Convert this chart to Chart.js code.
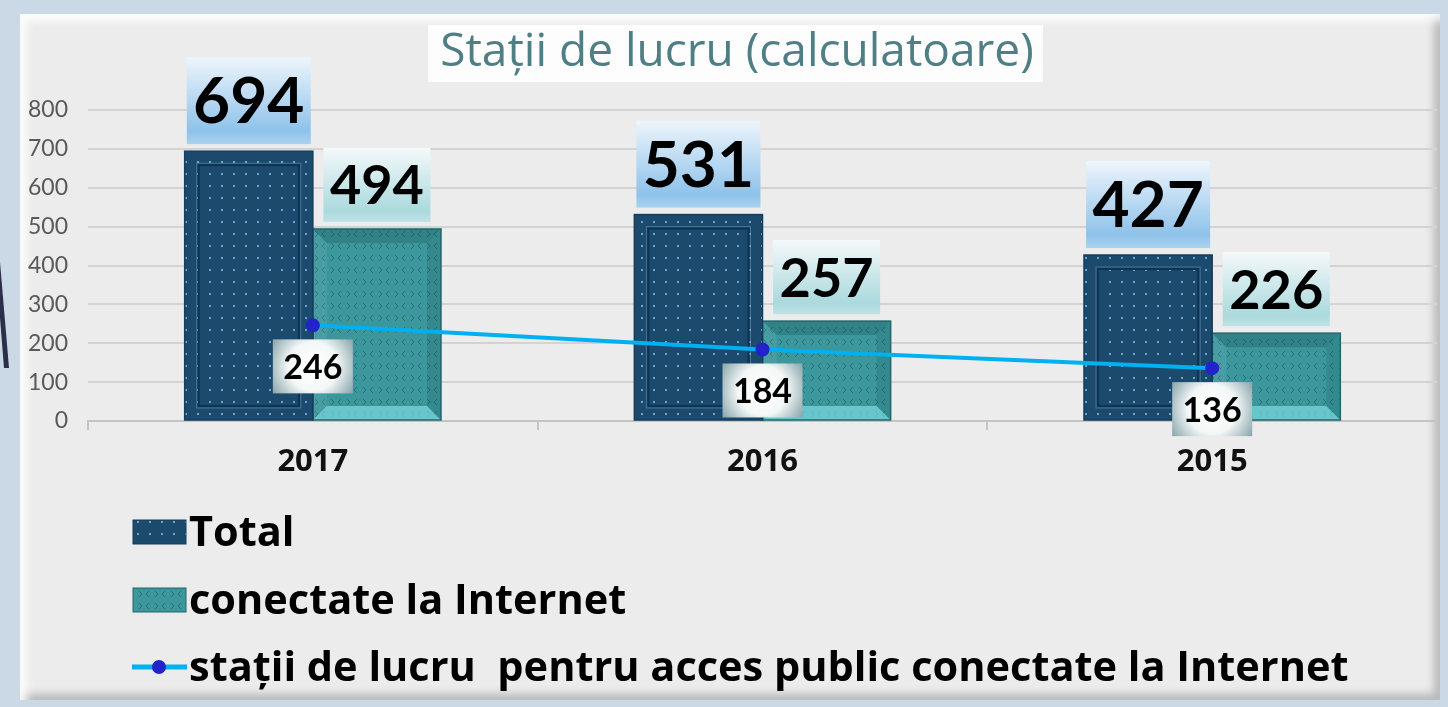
<!DOCTYPE html>
<html lang="ro">
<head>
<meta charset="UTF-8">
<title>Stații de lucru (calculatoare)</title>
<script src="https://cdn.jsdelivr.net/npm/chart.js"></script>
<style>
  body { margin: 0; width: 1448px; height: 707px; overflow: hidden; position: relative; background: #cbd9e6; }
  .panel {
    position: absolute; left: 20px; top: 14px; width: 1420px; height: 686px;
    background: #ececec;
    box-shadow: inset 7px 7px 8px rgba(255,255,255,.85), inset -6px -6px 8px rgba(0,0,0,.22);
  }
  .edge { position: absolute; left: 0; top: 0; }
  #chart { position: absolute; left: 0; top: 0; }
</style>
</head>
<body>
<svg class="edge" width="20" height="707"><polygon points="0,262 9,368 4,368 0,318" fill="#2b2f4a"/></svg>
<div class="panel"></div>
<canvas id="chart" width="1448" height="707"></canvas>
<script>
// data
const years = ['2017', '2016', '2015'];
const totalValues = [694, 531, 427];
const internetValues = [494, 257, 226];
const publicValues = [246, 184, 136];
const seriesNames = ['Total', 'conectate la Internet', 'stații de lucru  pentru acces public conectate la Internet'];
const chartTitle = 'Stații de lucru (calculatoare)';

const canvas = document.getElementById('chart');
const ctx = canvas.getContext('2d');

// bar fills
function dotPattern() {
    const c = document.createElement('canvas');
    c.width = 12; c.height = 12;
    const g = c.getContext('2d');
    g.fillStyle = '#1b4a6d'; g.fillRect(0, 0, 12, 12);
    g.fillStyle = '#6fa6d0'; g.fillRect(5, 5, 2, 2);
    return ctx.createPattern(c, 'repeat');
}
function chevronPattern() {
    const c = document.createElement('canvas');
    c.width = 16; c.height = 12;
    const g = c.getContext('2d');
    g.fillStyle = '#3c979c'; g.fillRect(0, 0, 16, 12);
    g.strokeStyle = '#2b7277'; g.lineWidth = 1;
    g.beginPath();
    g.moveTo(5, 3); g.lineTo(2, 6); g.lineTo(5, 9);
    g.moveTo(11, 3); g.lineTo(14, 6); g.lineTo(11, 9);
    g.stroke();
    return ctx.createPattern(c, 'repeat');
}
const totalFill = dotPattern();
const internetFill = chevronPattern();

// bevel look on bars
const bevelPlugin = {
    id: 'bevel',
    afterDatasetDraw(chart, args) {
        const ds = chart.data.datasets[args.index];
        if (!ds.bevel) return;
        const c = chart.ctx;
        c.save();
        args.meta.data.forEach(el => {
            const l = el.x - el.width / 2, r = el.x + el.width / 2;
            const t = el.y, b = el.base;
            const k = 14;
            if (ds.bevel === 'frame') {
                c.strokeStyle = '#0f3350'; c.lineWidth = 2;
                c.strokeRect(l + k, t + k, r - l - 2 * k, b - t - 2 * k);
                c.strokeStyle = 'rgba(120,170,210,0.45)'; c.lineWidth = 1;
                c.strokeRect(l + k - 2, t + k - 2, r - l - 2 * k + 4, b - t - 2 * k + 4);
            } else {
                const quad = (pts, col) => {
                    c.fillStyle = col; c.beginPath();
                    c.moveTo(pts[0], pts[1]);
                    for (let i = 2; i < pts.length; i += 2) c.lineTo(pts[i], pts[i + 1]);
                    c.closePath(); c.fill();
                };
                quad([l, t, r, t, r - k, t + k, l + k, t + k], 'rgba(0,40,45,0.18)');
                quad([l, b, r, b, r - k, b - k, l + k, b - k], 'rgba(130,230,236,0.6)');
                quad([l, t, l + k, t + k, l + k, b - k, l, b], 'rgba(255,255,255,0.06)');
                quad([r, t, r - k, t + k, r - k, b - k, r, b], 'rgba(0,40,45,0.12)');
            }
            c.strokeStyle = ds.bevel === 'frame' ? '#153d5c' : '#24666b';
            c.lineWidth = 1.5;
            c.strokeRect(l, t, r - l, b - t);
        });
        c.restore();
    }
};

// value labels in shaded boxes
const boxLabelPlugin = {
    id: 'boxLabels',
    afterDatasetsDraw(chart) {
        const c = chart.ctx;
        chart.data.datasets.forEach((ds, i) => {
            const st = ds.labelStyle;
            const meta = chart.getDatasetMeta(i);
            meta.data.forEach((el, j) => {
                const left = el.x - st.w / 2;
                const top = st.pos === 'above' ? el.y - st.gap - st.h : el.y + st.gap;
                let grad;
                if (st.radial) {
                    grad = c.createRadialGradient(el.x, top + st.h / 2, 4, el.x, top + st.h / 2, st.w * 0.62);
                    grad.addColorStop(0, '#ffffff');
                    grad.addColorStop(0.45, '#f4f7f7');
                    grad.addColorStop(1, '#7f9fa5');
                } else {
                    grad = c.createLinearGradient(0, top, 0, top + st.h);
                    grad.addColorStop(0, st.colors[0]);
                    grad.addColorStop(0.85, st.colors[1]);
                    grad.addColorStop(1, st.colors[2]);
                }
                c.save();
                c.fillStyle = grad;
                c.fillRect(left, top, st.w, st.h);
                c.fillStyle = '#000';
                c.font = st.font;
                c.textAlign = 'center';
                c.textBaseline = 'middle';
                c.fillText(String(ds.data[j]), el.x, top + st.h / 2 + 2);
                c.restore();
            });
        });
    }
};

// title and legend
const decorPlugin = {
    id: 'decor',
    afterDraw(chart) {
        const c = chart.ctx;
        c.save();
        c.fillStyle = 'rgba(255,255,255,0.9)';
        c.fillRect(428, 25, 615, 57);
        c.fillStyle = '#4f7f85';
        c.font = '46px "Open Sans"';
        c.textAlign = 'center';
        c.textBaseline = 'middle';
        c.fillText(chartTitle, 737, 53);

        const rows = [532, 600, 667];
        c.textAlign = 'left';
        c.font = 'bold 41.5px "Open Sans"';
        chart.data.datasets.forEach((ds, i) => {
            const y = rows[i];
            if (ds.type === 'line') {
                c.strokeStyle = ds.borderColor; c.lineWidth = 5;
                c.beginPath(); c.moveTo(132, y); c.lineTo(187, y); c.stroke();
                c.fillStyle = ds.pointBackgroundColor;
                c.beginPath(); c.arc(159, y, 7, 0, Math.PI * 2); c.fill();
            } else {
                c.fillStyle = ds.backgroundColor;
                c.fillRect(133, y - 12, 53, 24);
                c.strokeStyle = ds.borderColor; c.lineWidth = 1;
                c.strokeRect(133, y - 12, 53, 24);
            }
            c.fillStyle = '#000';
            c.fillText(ds.label, 189, y + 2);
        });
        c.restore();
    }
};

new Chart(ctx, {
    type: 'bar',
    data: {
        labels: years,
        datasets: [
            {
                label: seriesNames[0],
                data: totalValues,
                backgroundColor: totalFill,
                borderColor: '#153d5c',
                borderWidth: 0,
                bevel: 'frame',
                order: 1,
                labelStyle: { pos: 'above', gap: 7, w: 124, h: 87, font: 'bold 64px Lato', colors: ['#eef5fc', '#8ec2ea', '#a9d2f0'] }
            },
            {
                label: seriesNames[1],
                data: internetValues,
                backgroundColor: internetFill,
                borderColor: '#24666b',
                borderWidth: 0,
                bevel: 'chamfer',
                order: 1,
                labelStyle: { pos: 'above', gap: 7, w: 107, h: 74, font: 'bold 54px Lato', colors: ['#f4f9fa', '#abd9dd', '#bfe2e5'] }
            },
            {
                type: 'line',
                label: seriesNames[2],
                data: publicValues,
                borderColor: '#00b0f0',
                borderWidth: 4,
                pointBackgroundColor: '#2323cc',
                pointBorderWidth: 0,
                pointRadius: 7,
                order: 0,
                labelStyle: { pos: 'below', gap: 14, w: 80, h: 54, font: 'bold 34px Lato', radial: true }
            }
        ]
    },
    options: {
        responsive: false,
        animation: false,
        categoryPercentage: 0.57,
        barPercentage: 1,
        layout: { padding: { top: 110, right: 11, left: 0, bottom: 0 } },
        plugins: {
            legend: { display: false },
            title: { display: false },
            tooltip: { enabled: false }
        },
        scales: {
            x: {
                grid: { drawOnChartArea: false, tickLength: 9, color: '#c4c4c4', lineWidth: 2 },
                border: { color: '#c4c4c4', width: 2 },
                ticks: { color: '#111', padding: 14, font: { family: 'Open Sans', weight: 'bold', size: 31 } },
                afterFit(scale) { scale.height = 707 - 421; }
            },
            y: {
                min: 0,
                max: 800,
                ticks: { stepSize: 100, padding: 20, color: '#595959', font: { family: 'Lato', size: 23 } },
                grid: { color: '#d3d3d3', lineWidth: 2, drawTicks: false },
                border: { display: false },
                afterFit(scale) { scale.width = 88; }
            }
        }
    },
    plugins: [bevelPlugin, boxLabelPlugin, decorPlugin]
});
</script>
</body>
</html>
